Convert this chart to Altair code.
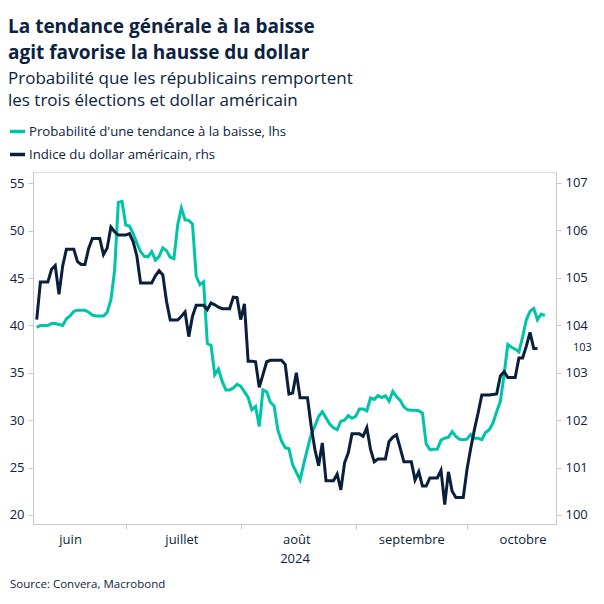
import altair as alt
import pandas as pd

# ---- text ----
TITLE = ["La tendance générale à la baisse", "agit favorise la hausse du dollar"]
SUBTITLE = ["Probabilité que les républicains remportent", "les trois élections et dollar américain"]
SERIES = ["Probabilité d'une tendance à la baisse, lhs", "Indice du dollar américain, rhs"]
SOURCE = "Source: Convera, Macrobond"
X_TITLE = "2024"
MONTHS = ["juin", "juillet", "août", "septembre", "octobre"]
LEFT_TICKS = [20, 25, 30, 35, 40, 45, 50, 55]
RIGHT_TICKS = [100, 101, 102, 103, 104, 105, 106, 107]
LAST_LABEL = "103"

# ---- data (daily, starting 2024-06-07) ----
START = "2024-06-07"
sweep_prob = [
    39.8, 40.0, 40.0, 40.0, 40.2, 40.2, 40.1, 40.0, 40.7, 41.0,
    41.5, 41.6, 41.6, 41.6, 41.4, 41.1, 41.0, 41.0, 41.0, 41.4,
    42.7, 45.8, 53.0, 53.1, 50.6, 50.5, 49.7, 48.7, 47.8, 47.3,
    47.25, 47.8, 46.9, 47.3, 48.2, 47.9, 47.2, 47.05, 50.6, 52.4,
    51.15, 51.1, 50.7, 45.2, 44.3, 44.6, 38.1, 37.9, 34.8, 35.4,
    34.1, 33.2, 33.2, 33.4, 33.8, 33.6, 33.0, 32.4, 31.1, 31.45,
    29.35, 33.2, 33.0, 31.9, 31.5, 29.0, 27.8, 27.1, 27.0, 25.3,
    24.5, 23.7, 25.4, 27.0, 28.5, 29.4, 30.4, 30.9, 30.25, 29.6,
    29.2, 29.0, 29.9, 30.0, 30.5, 30.2, 30.4, 31.2, 31.2, 31.0,
    32.35, 32.2, 32.6, 32.4, 32.6, 32.0, 33.05, 32.5, 32.1, 31.4,
    31.1, 31.05, 31.05, 31.0, 30.75, 27.5, 26.9, 26.95, 26.95, 27.9,
    28.1, 28.2, 28.8, 28.3, 28.0, 27.95, 28.0, 28.5, 28.1, 28.1,
    27.95, 28.7, 29.0, 29.7, 30.9, 32.0, 34.8, 38.0, 37.7, 37.5,
    37.2, 38.8, 40.6, 41.5, 41.8, 40.6, 41.2, 41.05,
]
dollar = [
    104.12, 104.91, 104.91, 104.91, 105.18, 105.26, 104.65, 105.25, 105.6, 105.6,
    105.6, 105.34, 105.28, 105.28, 105.62, 105.83, 105.83, 105.83, 105.49, 105.63,
    106.07, 105.97, 105.9, 105.9, 105.9, 105.93, 105.76, 105.46, 104.89, 104.89,
    104.89, 104.89, 105.04, 105.15, 105.06, 104.5, 104.11, 104.11, 104.11, 104.19,
    104.28, 103.76, 104.19, 104.42, 104.42, 104.42, 104.33, 104.47, 104.43, 104.38,
    104.35, 104.35, 104.35, 104.59, 104.58, 104.12, 104.45, 103.24, 103.24, 103.23,
    102.69, 102.96, 103.23, 103.26, 103.26, 103.26, 103.26, 103.17, 102.55, 102.57,
    103.0, 102.47, 102.47, 102.47, 101.87, 101.38, 101.04, 101.52, 100.72, 100.72,
    100.72, 100.86, 100.53, 101.1, 101.31, 101.71, 101.71, 101.71, 101.66, 101.84,
    101.38, 101.12, 101.18, 101.18, 101.18, 101.55, 101.64, 101.69, 101.41, 101.12,
    101.12, 101.12, 100.74, 100.91, 100.61, 100.61, 100.78, 100.78, 100.78, 100.94,
    100.22, 100.91, 100.5, 100.37, 100.37, 100.37, 100.96, 101.4, 101.8, 102.15,
    102.53, 102.53, 102.53, 102.54, 102.55, 102.93, 103.02, 102.9, 102.9, 102.9,
    103.31, 103.31, 103.56, 103.85, 103.51, 103.51,
]

df_g = pd.DataFrame({"date": pd.date_range(START, periods=len(sweep_prob), freq="D"),
                     "value": sweep_prob, "series": SERIES[0]})
df_d = pd.DataFrame({"date": pd.date_range(START, periods=len(dollar), freq="D"),
                     "value": dollar, "series": SERIES[1]})
df_last = pd.DataFrame({"value": [dollar[-1]], "label": [LAST_LABEL]})
df_src = pd.DataFrame({"t": [SOURCE]})

# ---- style ----
FONT = "Open Sans"
TXT = "#0d2240"
GREEN = "#00c4a7"
NAVY = "#0a1f3b"
GRAY = "#c8c8c8"
W, H = 523, 352

x_scale = alt.Scale(domain=[alt.DateTime(year=2024, month=6, date=6),
                            alt.DateTime(year=2024, month=10, date=25)])
yl_scale = alt.Scale(domain=[19.05, 56.2], nice=False, zero=False)
yr_scale = alt.Scale(domain=[99.81, 107.23], nice=False, zero=False)
color_scale = alt.Scale(domain=SERIES, range=[GREEN, NAVY])

month_expr = "[" + ",".join("'%s'" % m for m in MONTHS) + "][month(datum.value) - 5]"

tick_axis = alt.Axis(
    values=[alt.DateTime(year=2024, month=m, date=1) for m in (7, 8, 9, 10)],
    labels=False, title=None, grid=False, ticks=True, tickSize=5,
    tickColor=GRAY, domainColor=GRAY, orient="bottom",
)
label_axis = alt.Axis(
    values=[alt.DateTime(year=2024, month=m, date=16) for m in (6, 7, 8, 9, 10)],
    labelExpr=month_expr, ticks=False, tickSize=0, domain=False, grid=False,
    title=X_TITLE, orient="bottom", labelPadding=9, titlePadding=6,
    labelFontSize=13, titleFontSize=13, titleFontWeight="normal",
    labelColor=TXT, titleColor=TXT, labelOverlap=False, labelFont=FONT, titleFont=FONT,
)
common_y = dict(grid=False, title=None, tickSize=5, tickColor=GRAY, domainColor=GRAY,
                labelFontSize=13, labelColor=TXT, labelPadding=4, labelFont=FONT)

legend = alt.Legend(
    orient="none", legendX=-25, legendY=-50, direction="vertical", title=None,
    symbolType="stroke", symbolSize=225, symbolStrokeWidth=3.5, labelFontSize=13.2,
    labelColor=TXT, labelFont=FONT, labelLimit=500, rowPadding=6, labelOffset=2, padding=0,
)

green = alt.Chart(df_g).mark_line(strokeWidth=3).encode(
    x=alt.X("date:T", scale=x_scale, axis=tick_axis),
    y=alt.Y("value:Q", scale=yl_scale, axis=alt.Axis(values=LEFT_TICKS, orient="left", **common_y)),
    color=alt.Color("series:N", scale=color_scale, legend=legend),
)
navy = alt.Chart(df_d).mark_line(strokeWidth=3).encode(
    x=alt.X("date:T", scale=x_scale, axis=label_axis),
    y=alt.Y("value:Q", scale=yr_scale, axis=alt.Axis(values=RIGHT_TICKS, orient="right", **common_y)),
    color=alt.Color("series:N", scale=color_scale, legend=legend),
)
last_txt = alt.Chart(df_last).mark_text(align="left", baseline="middle", fontSize=11, color=TXT, font=FONT).encode(
    x=alt.value(W + 17),
    y=alt.Y("value:Q", scale=yr_scale, axis=None),
    text="label:N",
)
src_txt = alt.Chart(df_src).mark_text(align="left", baseline="middle", fontSize=11.5, color=TXT, font=FONT).encode(
    x=alt.value(-23), y=alt.value(H + 61), text="t:N"
)

chart = (
    alt.layer(green, navy, last_txt, src_txt)
    .resolve_scale(y="independent", x="shared", color="shared")
    .resolve_axis(x="independent", y="independent")
    .properties(
        width=W, height=H,
        title=alt.TitleParams(
            text=TITLE, subtitle=SUBTITLE, anchor="start", frame="bounds",
            font=FONT, fontSize=19, fontWeight="bold", color=TXT, lineHeight=26,
            subtitleFont=FONT, subtitleFontSize=17, subtitleColor=TXT,
            subtitleLineHeight=22, subtitlePadding=8, offset=13,
        ),
        padding={"left": 33, "top": 172, "right": 48, "bottom": 80},
        autosize=alt.AutoSizeParams(type="none"),
    )
    .configure_view(stroke=None)
    .configure(font=FONT)
)

chart.save("out.html", embed_options={"renderer": "svg", "actions": False})
